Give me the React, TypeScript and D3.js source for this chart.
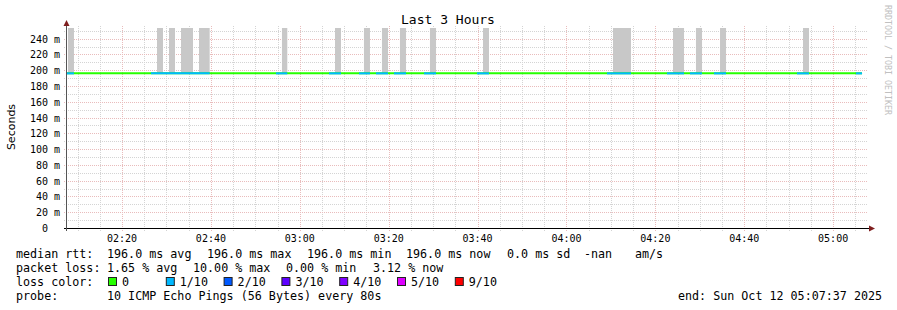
import React from "react";
import * as d3 from "d3";

const DAY = "2025-10-12";
const START = "02:07:37";
const END = "05:07:37";
const LINE_END = "05:06:30";
const MEDIAN_RTT = 196; // ms

const yTicks = [0, 20, 40, 60, 80, 100, 120, 140, 160, 180, 200, 220, 240];
const xTickLabels = ["02:20", "02:40", "03:00", "03:20", "03:40", "04:00", "04:20", "04:40", "05:00"];

// line segments with 1/10 packet loss (drawn light blue)
const lossStart = ["02:07:37", "02:26:31", "02:54:38", "03:06:34", "03:13:19", "03:17:08", "03:21:11", "03:27:57", "03:39:52", "04:09:07", "04:22:37", "04:27:47", "04:33:11", "04:51:52", "05:05:09"];
const lossEnd = ["02:09:11", "02:39:43", "02:57:11", "03:09:16", "03:15:47", "03:19:51", "03:23:54", "03:30:39", "03:42:34", "04:14:31", "04:26:27", "04:30:30", "04:35:54", "04:54:34", "05:06:30"];
const lossLevel = [1, 1, 1, 1, 1, 1, 1, 1, 1, 1, 1, 1, 1, 1, 1];

// smoke (spread of pings) intervals, from median up to max rtt
const smokeStart = ["02:07:50", "02:27:52", "02:30:34", "02:33:16", "02:37:19", "02:55:59", "03:07:55", "03:14:26", "03:18:29", "03:22:32", "03:29:17", "03:41:13", "04:10:28", "04:23:58", "04:29:08", "04:34:33", "04:53:13"];
const smokeEnd = ["02:09:11", "02:29:13", "02:31:55", "02:35:58", "02:39:43", "02:57:11", "03:09:16", "03:15:47", "03:19:51", "03:23:54", "03:30:39", "03:42:34", "04:14:31", "04:26:27", "04:30:30", "04:35:54", "04:54:34"];
const smokeMax = [400, 400, 400, 400, 400, 400, 400, 400, 400, 400, 400, 400, 400, 400, 400, 400, 400];

const lossLabels = ["0", "1/10", "2/10", "3/10", "4/10", "5/10", "9/10"];
const lossColors = ["#26ff00", "#00b8ff", "#0059ff", "#5e00ff", "#7e00ff", "#dd00ff", "#ff0000"];

const parse = d3.timeParse("%Y-%m-%d %H:%M:%S");
const t = (s: string) => parse(`${DAY} ${s.length === 5 ? s + ":00" : s}`) as Date;

const W = 897, H = 310;
const PL = 67, PR = 867, PT = 28, PB = 228;
const MONO = "'DejaVu Sans Mono', monospace";

export default function App() {
  const x = d3.scaleTime().domain([t(START), t(END)]).range([PL, PR]);
  const y = d3.scaleLinear().domain([0, 253.5]).range([PB, PT]);

  const minorX = x.ticks(d3.timeMinute.every(5) as any);
  const majorX = xTickLabels.map(t);
  const minorY = d3.range(0, 251, 10);
  const line = d3.line<[Date, number]>().x((d) => x(d[0])).y((d) => y(d[1]));

  const dash = "1,1";
  const minorC = "#d4d4d4";
  const majorC = "#e9bcbc";
  return (
    <div style={{ position: "absolute", left: 0, top: 0 }}>
      <svg width={W} height={H} style={{ display: "block", background: "#fff" }}>
        <defs>
          <clipPath id="plot">
            <rect x={PL} y={PT} width={PR - PL} height={PB - PT} />
          </clipPath>
        </defs>
        <rect x={0} y={0} width={W} height={H} fill="#fff" />
        {/* grid minor */}
        {minorY.filter((v) => v % 20 !== 0).map((v) => (
          <line key={"my" + v} x1={PL - 3} x2={PR + 1} y1={Math.round(y(v)) + 0.5} y2={Math.round(y(v)) + 0.5} stroke={minorC} strokeDasharray={dash} />
        ))}
        {minorX.filter((d) => d.getMinutes() % 20 !== 0).map((d) => (
          <line key={"mx" + +d} y1={PT - 2} y2={PB + 3} x1={Math.round(x(d)) + 0.5} x2={Math.round(x(d)) + 0.5} stroke={minorC} strokeDasharray={dash} />
        ))}
        {yTicks.filter((v) => v > 0).map((v) => (
          <line key={"My" + v} x1={PL - 3} x2={PR + 1} y1={Math.round(y(v)) + 0.5} y2={Math.round(y(v)) + 0.5} stroke={majorC} strokeDasharray={dash} />
        ))}
        {majorX.map((d) => (
          <line key={"Mx" + +d} y1={PT - 2} y2={PB + 3} x1={Math.round(x(d)) + 0.5} x2={Math.round(x(d)) + 0.5} stroke={majorC} strokeDasharray={dash} />
        ))}

        {/* smoke */}
        <g clipPath="url(#plot)">
          {smokeStart.map((s, i) => (
            <rect key={"s" + i} x={x(t(s))} width={x(t(smokeEnd[i])) - x(t(s))} y={y(smokeMax[i])} height={y(MEDIAN_RTT) - y(smokeMax[i])} fill="#c8c8c8" />
          ))}
        </g>

        {/* median line */}
        <path d={line([[t(START), MEDIAN_RTT], [t(LINE_END), MEDIAN_RTT]]) as string} stroke={lossColors[0]} strokeWidth={2} fill="none" />
        {lossStart.map((s, i) => (
          <path key={"l" + i} d={line([[t(s), MEDIAN_RTT], [t(lossEnd[i]), MEDIAN_RTT]]) as string} stroke={lossColors[lossLevel[i]]} strokeWidth={2} fill="none" />
        ))}

        {/* axes */}
        <line x1={PL - 3} x2={PR + 2} y1={PB + 0.5} y2={PB + 0.5} stroke="#000" />
        <line x1={PL - 0.5} x2={PL - 0.5} y1={PB + 3} y2={PT - 5} stroke="#555" />
        <path d={`M${PL - 3.5},${PT - 2} L${PL - 0.5},${PT - 8} L${PL + 2.5},${PT - 2} Z`} fill="#7f1f1f" />
        <path d={`M${PR + 2},${PB - 2.5} L${PR + 8},${PB + 0.5} L${PR + 2},${PB + 3.5} Z`} fill="#7f1f1f" />

        {/* y labels */}
        {yTicks.map((v) => (
          <text key={"yl" + v} x={v === 0 ? 48 : 60} y={y(v) + 4} textAnchor="end" fontFamily={MONO} fontSize={10} fill="#000">
            {v === 0 ? "0" : `${v} m`}
          </text>
        ))}
        {/* x labels */}
        {xTickLabels.map((s) => (
          <text key={"xl" + s} x={x(t(s))} y={242} textAnchor="middle" fontFamily={MONO} fontSize={10} fill="#000">
            {s}
          </text>
        ))}

        {/* title */}
        <text x={448} y={24} textAnchor="middle" fontFamily={MONO} fontSize={13} fill="#000">Last 3 Hours</text>
        <text transform="translate(15,127) rotate(-90)" textAnchor="middle" fontFamily="'DejaVu Sans', sans-serif" fontSize={11} fill="#000">Seconds</text>
        <text transform="translate(885,5) rotate(90)" fontFamily={MONO} fontSize={8.3} fill="#c0c0c0">RRDTOOL / TOBI OETIKER</text>

        {/* legend */}
        <g fontFamily={MONO} fontSize={11.7} fill="#000" style={{ whiteSpace: "pre" }}>
          <text x={16} y={258}>median rtt:</text>
          <text x={107} y={258}>{`${MEDIAN_RTT.toFixed(1)} ms avg`}</text>
          <text x={207} y={258}>{`${MEDIAN_RTT.toFixed(1)} ms max`}</text>
          <text x={307} y={258}>{`${MEDIAN_RTT.toFixed(1)} ms min`}</text>
          <text x={406} y={258}>{`${MEDIAN_RTT.toFixed(1)} ms now`}</text>
          <text x={507} y={258}>0.0 ms sd</text>
          <text x={584} y={258}>-nan</text>
          <text x={635} y={258}>am/s</text>

          <text x={16} y={272}>packet loss:</text>
          <text x={107} y={272}>1.65 % avg</text>
          <text x={193} y={272}>10.00 % max</text>
          <text x={286} y={272}>0.00 % min</text>
          <text x={373} y={272}>3.12 % now</text>

          <text x={16} y={286}>loss color:</text>
          {lossLabels.map((l, i) => (
            <g key={"lg" + i}>
              <rect x={108.5 + i * 57.8} y={277.5} width={8} height={8} fill={lossColors[i]} stroke="#222" strokeWidth={1} />
              <text x={122 + i * 57.8} y={286}>{l}</text>
            </g>
          ))}

          <text x={16} y={300}>probe:</text>
          <text x={107} y={300}>10 ICMP Echo Pings (56 Bytes) every 80s</text>
          <text x={678} y={300}>end: Sun Oct 12 05:07:37 2025</text>
        </g>
      </svg>
    </div>
  );
}
